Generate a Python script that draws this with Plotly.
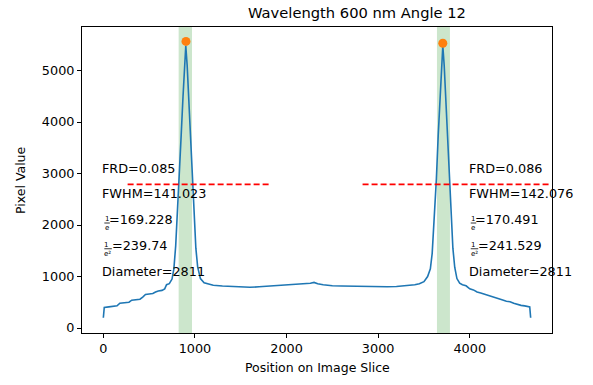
import plotly.graph_objects as go

# ---------------- data ----------------
position = [0, 10, 60, 110, 150, 180, 230, 280, 310, 360, 400, 430, 460, 500, 540, 570, 600, 640, 670, 690, 720, 750,
            770, 790, 810, 830, 850, 870, 885, 900, 915, 930, 950, 970, 990, 1010, 1030, 1060, 1100, 1150, 1200,
            1300, 1400, 1500, 1600, 1700, 1800, 1900, 2000, 2100, 2200, 2260, 2300, 2340, 2400, 2500, 2600, 2700,
            2800, 2900, 3000, 3100, 3200, 3300, 3400, 3450, 3500, 3540, 3570,
            3590, 3610, 3636, 3656, 3676, 3691, 3706, 3721, 3736, 3756, 3776, 3796, 3816, 3836, 3860, 3890, 3920, 3960,
            4000, 4040, 4080, 4120, 4160, 4200, 4240, 4280, 4320, 4360, 4400, 4440, 4480, 4520, 4560, 4600, 4640,
            4655, 4665]
pixel_value = [200, 400, 410, 420, 430, 480, 490, 500, 540, 555, 560, 600, 650, 660, 670, 700, 720, 730, 760, 840, 860, 950,
               1150, 1600, 2250, 2950, 3750, 4500, 5100, 5480, 5100, 4500, 3750, 2950, 2150, 1550, 1180, 960, 880, 850, 830,
               815, 810, 800, 790, 800, 810, 825, 830, 840, 850, 870, 885, 860, 840, 820, 815, 810,
               805, 800, 800, 800, 805, 820, 840, 860, 900, 1000, 1150,
               1450, 2000, 2900, 3750, 4500, 5100, 5480, 5100, 4500, 3750, 2900, 2150, 1550, 1180, 960, 870, 840, 820,
               760, 740, 700, 680, 660, 640, 610, 590, 570, 545, 520, 510, 480, 455, 440, 430, 420,
               410, 200]

peak_x = [902, 3706]
peak_y = [5565, 5530]

span_left = [822, 3642]
span_right = [968, 3784]

half_max = 2790
halfline_left_x = [265, 1810]
halfline_right_x = [2830, 4870]

text_x = [0, 4000]
row_y = [3000, 2500, 2000, 1500, 1000]
left_texts = ["FRD=0.085", "FWHM=141.023", "=169.228", "=239.74", "Diameter=2811"]
right_texts = ["FRD=0.086", "FWHM=142.076", "=170.491", "=241.529", "Diameter=2811"]
frac_denoms = [None, None, "e", "e²", None]

title = "Wavelength 600 nm Angle 12"
xlabel = "Position on Image Slice"
ylabel = "Pixel Value"
xticks = [0, 1000, 2000, 3000, 4000]
yticks = [0, 1000, 2000, 3000, 4000, 5000]

# ---------------- style (pixel offsets for the stacked fractions) ----------------
FRAC_STYLE = {"e": dict(text_shift=4.5, center=3.5, bar_end=6.5),
              "e²": dict(text_shift=7.5, center=4.5, bar_end=8.5)}

# ---------------- figure ----------------
FONT = "DejaVu Sans"
fig = go.Figure()

for a, b in zip(span_left, span_right):
    fig.add_shape(type="rect", xref="x", yref="paper", x0=a, x1=b, y0=0, y1=1,
                  fillcolor="rgba(0,128,0,0.2)", line=dict(width=0), layer="below")

fig.add_trace(go.Scatter(x=position, y=pixel_value, mode="lines",
                         line=dict(color="#1f77b4", width=1.6), hoverinfo="skip"))
for xs in (halfline_left_x, halfline_right_x):
    fig.add_trace(go.Scatter(x=xs, y=[half_max, half_max], mode="lines",
                             line=dict(color="#ff0000", width=1.6, dash="6px,3px"), hoverinfo="skip"))
fig.add_trace(go.Scatter(x=peak_x, y=peak_y, mode="markers",
                         marker=dict(color="#ff7f0e", size=9), hoverinfo="skip"))

tfont = dict(family=FONT, size=12.8, color="black")
sfont = dict(family=FONT, size=7, color="black")
for tx, texts in zip(text_x, (left_texts, right_texts)):
    for yy, t, den in zip(row_y, texts, frac_denoms):
        if den is None:
            fig.add_annotation(x=tx, y=yy, xref="x", yref="y", text=t, showarrow=False, borderpad=0,
                               xanchor="left", yanchor="middle", xshift=-2, yshift=5.5, font=tfont)
        else:
            st = FRAC_STYLE[den]
            fig.add_annotation(x=tx, y=yy, xref="x", yref="y", text=t, showarrow=False, borderpad=0,
                               xanchor="left", yanchor="middle", xshift=st["text_shift"], yshift=5.5, font=tfont)
            fig.add_annotation(x=tx, y=yy, xref="x", yref="y", text="1<br>" + den, showarrow=False,
                               borderpad=0, align="left",
                               xanchor="center", yanchor="middle", xshift=st["center"], yshift=1.5, font=sfont)
            fig.add_shape(type="line", xref="x", yref="y", xsizemode="pixel", ysizemode="pixel",
                          xanchor=tx, yanchor=yy, x0=1, x1=st["bar_end"], y0=2, y1=2,
                          line=dict(color="black", width=0.8))

fig.add_annotation(xref="paper", yref="paper", x=0.585, y=1, yshift=15, text=title, showarrow=False,
                   xanchor="center", yanchor="middle", font=dict(family=FONT, size=14.7, color="black"))
fig.add_annotation(xref="paper", yref="paper", x=0.5, y=0, yshift=-34, text=xlabel, showarrow=False,
                   xanchor="center", yanchor="middle", font=dict(family=FONT, size=12.5, color="black"))
fig.add_annotation(xref="paper", yref="paper", x=0, y=0.5, xshift=-62, text=ylabel, showarrow=False,
                   textangle=-90, xanchor="center", yanchor="middle", font=dict(family=FONT, size=12.5, color="black"))

axis_common = dict(showline=True, mirror=True, linecolor="black", linewidth=1, showgrid=False,
                   zeroline=False, ticks="outside", ticklen=4, tickcolor="black",
                   tickfont=dict(family=FONT, size=12.8, color="black"))
fig.update_xaxes(range=[-233, 4898], tickvals=xticks, ticktext=[str(v) for v in xticks], **axis_common)
fig.update_yaxes(range=[-97, 5845], tickvals=yticks, ticktext=[str(v) for v in yticks], **axis_common)

fig.update_layout(width=593, height=385, margin=dict(l=82, r=41, t=27, b=52, autoexpand=False),
                  paper_bgcolor="white", plot_bgcolor="white", showlegend=False,
                  font=dict(family=FONT, color="black"))

fig.write_html("out.html")
